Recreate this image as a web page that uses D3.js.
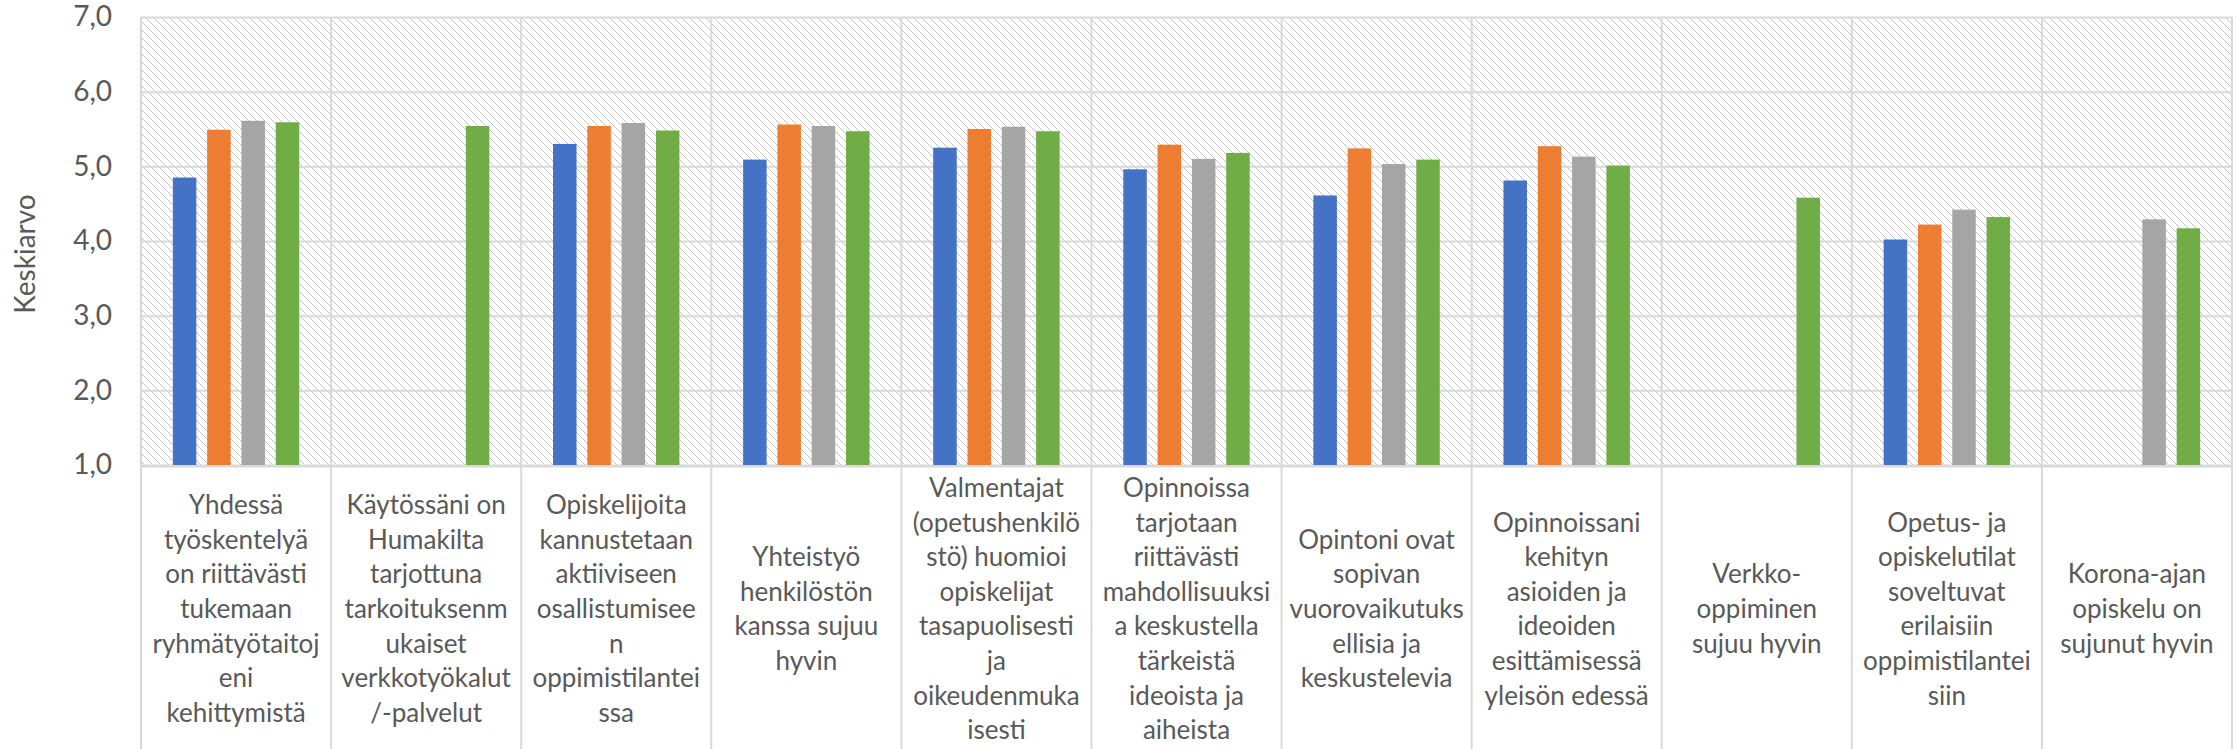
<!DOCTYPE html>
<html>
<head>
<meta charset="utf-8">
<script src="https://cdn.jsdelivr.net/npm/d3@7"></script>
<style>
  body { margin: 0; background: #fff; }
  text { font-family: Lato, "Open Sans", sans-serif; fill: #595959; }
</style>
</head>
<body>
<svg id="chart"></svg>
<script>
// data
const categories = [
    ["Yhdessä", "työskentelyä", "on riittävästi", "tukemaan", "ryhmätyötaitoj", "eni", "kehittymistä"],
    ["Käytössäni on", "Humakilta", "tarjottuna", "tarkoituksenm", "ukaiset", "verkkotyökalut", "/-palvelut"],
    ["Opiskelijoita", "kannustetaan", "aktiiviseen", "osallistumisee", "n", "oppimistilantei", "ssa"],
    ["Yhteistyö", "henkilöstön", "kanssa sujuu", "hyvin"],
    ["Valmentajat", "(opetushenkilö", "stö) huomioi", "opiskelijat", "tasapuolisesti", "ja", "oikeudenmuka", "isesti"],
    ["Opinnoissa", "tarjotaan", "riittävästi", "mahdollisuuksi", "a keskustella", "tärkeistä", "ideoista ja", "aiheista"],
    ["Opintoni ovat", "sopivan", "vuorovaikutuks", "ellisia ja", "keskustelevia"],
    ["Opinnoissani", "kehityn", "asioiden ja", "ideoiden", "esittämisessä", "yleisön edessä"],
    ["Verkko-", "oppiminen", "sujuu hyvin"],
    ["Opetus- ja", "opiskelutilat", "soveltuvat", "erilaisiin", "oppimistilantei", "siin"],
    ["Korona-ajan", "opiskelu on", "sujunut hyvin"]
];

const series1 = [4.85, null, 5.30, 5.09, 5.25, 4.96, 4.61, 4.81, null, 4.02, null];
const series2 = [5.49, null, 5.54, 5.56, 5.50, 5.29, 5.24, 5.27, null, 4.22, null];
const series3 = [5.61, null, 5.58, 5.54, 5.53, 5.10, 5.03, 5.13, null, 4.42, 4.29];
const series4 = [5.59, 5.54, 5.48, 5.47, 5.47, 5.18, 5.09, 5.01, 4.58, 4.32, 4.17];

const colors = ["#4472C4", "#ED7D31", "#A5A5A5", "#70AD47"];
const yTicks = [1, 2, 3, 4, 5, 6, 7];
const yTitle = "Keskiarvo";

// layout
const width = 2236;
const height = 749;
const plot = {left: 141, right: 2232, top: 17, bottom: 465};
const grid = "#d9d9d9";

const svg = d3.select("#chart")
    .attr("width", width)
    .attr("height", height);

// hatch pattern for plot area
const pat = svg.append("defs").append("pattern")
    .attr("id", "hatch")
    .attr("patternUnits", "userSpaceOnUse")
    .attr("width", 8)
    .attr("height", 8);
pat.append("rect").attr("width", 8).attr("height", 8).attr("fill", "#fff");
d3.range(8).forEach(i => {
    pat.append("rect")
        .attr("x", i).attr("y", i)
        .attr("width", 1).attr("height", 1)
        .attr("fill", "#c4c4c4");
});

const keys = categories.map((c, i) => i);

const x = d3.scaleBand()
    .domain(keys)
    .range([plot.left, plot.right])
    .padding(0);

const xInner = d3.scaleBand()
    .domain([0, 1, 2, 3])
    .range([-63.2, 63.2])
    .paddingInner(0.315)
    .paddingOuter(0);

const y = d3.scaleLinear()
    .domain([1, 7])
    .range([plot.bottom, plot.top]);

svg.append("rect")
    .attr("x", plot.left)
    .attr("y", plot.top)
    .attr("width", plot.right - plot.left)
    .attr("height", plot.bottom - plot.top)
    .attr("fill", "url(#hatch)");

// y axis with gridlines
const yAxis = svg.append("g")
    .attr("transform", `translate(${plot.left},0)`)
    .call(d3.axisLeft(y)
        .tickValues(yTicks)
        .tickSize(-(plot.right - plot.left))
        .tickPadding(29)
        .tickFormat(d => d3.format(".1f")(d).replace(".", ",")));
yAxis.select(".domain").remove();
yAxis.selectAll(".tick line")
    .attr("stroke", grid)
    .attr("stroke-width", 2);
yAxis.selectAll(".tick text")
    .style("font-size", "28px")
    .attr("fill", "#595959");

// category boundary lines (run down through the label area)
const bounds = keys.map(k => x(k)).concat([plot.right]);
svg.append("g")
    .selectAll("line")
    .data(bounds)
    .enter()
    .append("line")
    .attr("x1", d => d)
    .attr("x2", d => d)
    .attr("y1", plot.top)
    .attr("y2", height)
    .attr("stroke", grid)
    .attr("stroke-width", 2);

// bars
const allSeries = [series1, series2, series3, series4];
allSeries.forEach((vals, si) => {
    svg.append("g")
        .selectAll("rect")
        .data(vals.map((v, i) => ({i: i, v: v})).filter(d => d.v !== null))
        .enter()
        .append("rect")
        .attr("x", d => x(d.i) + x.bandwidth() / 2 + xInner(si))
        .attr("y", d => y(d.v))
        .attr("width", xInner.bandwidth())
        .attr("height", d => y(1) - y(d.v))
        .attr("fill", colors[si]);
});

// x axis line
const xAxis = svg.append("g")
    .attr("transform", `translate(0,${plot.bottom + 1})`)
    .call(d3.axisBottom(x).tickSize(0).tickFormat(""));
xAxis.select(".domain")
    .attr("stroke", grid)
    .attr("stroke-width", 2);

// multi-line category labels
const lineH = 34.6;
const midBase = 618;
xAxis.selectAll(".tick").each(function (k) {
    const lines = categories[k];
    const t = d3.select(this).append("text")
        .attr("text-anchor", "middle")
        .style("font-size", "26px");
    lines.forEach((ln, j) => {
        t.append("tspan")
            .attr("x", 0)
            .attr("y", midBase - plot.bottom - 1 + (j - (lines.length - 1) / 2) * lineH)
            .text(ln);
    });
});

// y axis title
svg.append("text")
    .attr("transform", `translate(35,254) rotate(-90)`)
    .attr("text-anchor", "middle")
    .style("font-size", "28px")
    .text(yTitle);
</script>
</body>
</html>
